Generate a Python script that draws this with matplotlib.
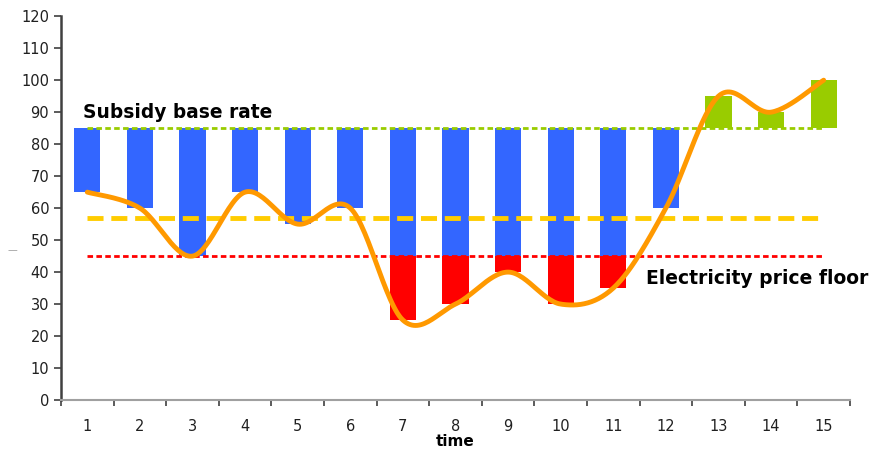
import numpy as np
import matplotlib
matplotlib.use("Agg")
import matplotlib.pyplot as plt

# data
time = list(range(1, 16))
price = [65, 60, 45, 65, 55, 60, 25, 30, 40, 30, 35, 60, 95, 90, 100]
base_rate = 85
floor = 45
average = 57


def smooth(x, y, n=30):
    # Catmull-Rom spline, like Excel's "smoothed line"
    x = np.asarray(x, float); y = np.asarray(y, float)
    px = np.concatenate([[x[0]], x, [x[-1]]])
    py = np.concatenate([[y[0]], y, [y[-1]]])
    xs, ys = [], []
    t = np.linspace(0, 1, n)
    for i in range(1, len(px) - 2):
        for p, out in ((px, xs), (py, ys)):
            p0, p1, p2, p3 = p[i - 1], p[i], p[i + 1], p[i + 2]
            c1 = p1 + (p2 - p0) / 6
            c2 = p2 - (p3 - p1) / 6
            out.extend((1 - t) ** 3 * p1 + 3 * (1 - t) ** 2 * t * c1
                       + 3 * (1 - t) * t ** 2 * c2 + t ** 3 * p2)
    return np.array(xs), np.array(ys)


blue_bottom = [max(p, floor) if p < base_rate else base_rate for p in price]
blue_height = [base_rate - b for b in blue_bottom]
red_bottom = [p if p < floor else floor for p in price]
red_height = [floor - r for r in red_bottom]
green_height = [p - base_rate if p > base_rate else 0 for p in price]

fig = plt.figure(figsize=(8.84, 4.5), dpi=100)
ax = fig.add_axes([0.069, 0.111, 0.8925, 0.853])

w = 0.5
ax.bar(time, blue_height, bottom=blue_bottom, width=w, color="#3366FF", zorder=2)
ax.bar(time, red_height, bottom=red_bottom, width=w, color="#FF0000", zorder=2)
ax.bar(time, green_height, bottom=base_rate, width=w, color="#99CC00", zorder=2)

ax.plot([1, 15], [base_rate] * 2, color="#99CC00", lw=2, dashes=(2, 1.2), zorder=3)
ax.plot([1, 15], [average] * 2, color="#FFCC00", lw=3.5, dashes=(3.3, 1.6), zorder=3)
ax.plot([1, 15], [floor] * 2, color="#FF0000", lw=2, dashes=(2, 1.2), zorder=3)

sx, sy = smooth(time, price)
ax.plot(sx, sy, color="#FF9900", lw=3.5, solid_capstyle="round", zorder=4)

ax.text(0.92, 88.3, "Subsidy base rate", fontsize=13.4, fontweight="bold")
ax.text(11.62, 36.2, "Electricity price floor", fontsize=13.5, fontweight="bold")

ax.set_xlim(0.5, 15.5)
ax.set_ylim(0, 120)
ax.set_yticks(range(0, 121, 10))
ax.set_xticks(time)
ax.set_xticks(np.arange(0.5, 15.6, 1), minor=True)
ax.tick_params(axis="x", which="major", length=0, pad=14, labelsize=10.5,
               labelcolor="#202020")
ax.tick_params(axis="x", which="minor", length=4, width=1.2, color="#404040")
ax.tick_params(axis="y", length=5, width=1.2, color="#404040", labelsize=10.5,
               labelcolor="#202020")
ax.set_xlabel("time", fontsize=11, fontweight="bold", labelpad=0)

for s in ["top", "right"]:
    ax.spines[s].set_visible(False)
ax.spines["left"].set_color("#404040")
ax.spines["left"].set_linewidth(1.8)
ax.spines["bottom"].set_color("#A0A0A0")
ax.spines["bottom"].set_linewidth(1.5)

fig.text(0.009, 0.437, "\u2014", fontsize=7, color="#A0A0A0")

fig.savefig("out.png", dpi=100)
